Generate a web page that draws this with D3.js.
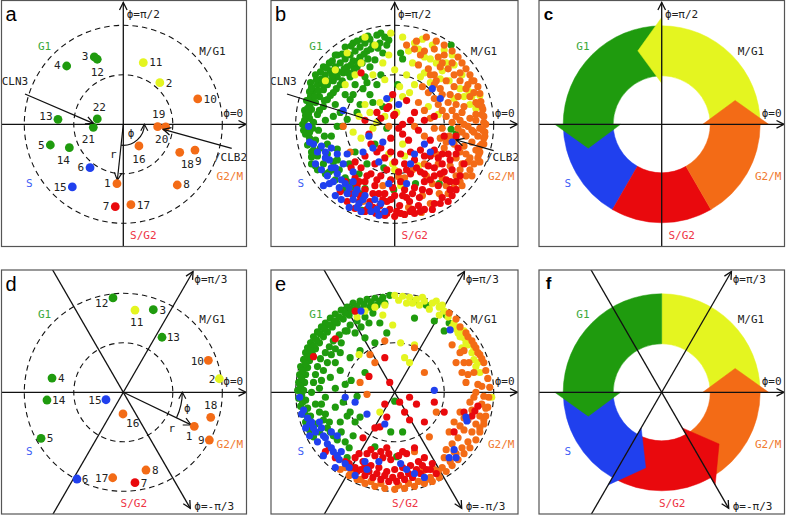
<!DOCTYPE html>
<html><head><meta charset="utf-8">
<script src="https://cdn.jsdelivr.net/npm/d3@7"></script>
<style>body{margin:0;background:#fff} text{font-family:"DejaVu Sans Mono",monospace}</style>
</head><body><svg id="chart" width="786" height="517"></svg>
<script>
// ---------- DATA ----------
const phases = ["G1","M/G1","G2/M","S","S/G2"];
const phaseFill = {"G1":"#1f9b0e","M/G1":"#e4f520","G2/M":"#f36b16","S":"#2040ee","S/G2":"#e9090d"};
const phaseText = {"G1":"#3aa83a","M/G1":"#222","G2/M":"#f07a30","S":"#3c5cf5","S/G2":"#ee3344"};
const geneIds = [1,2,3,4,5,6,7,8,9,10,11,12,13,14,15,16,17,18,19,20,21,22];
const genePhase = ["G2/M","M/G1","G1","G1","G1","S","S/G2","G2/M","G2/M","G2/M","M/G1","G1","G1","G1","S","G2/M","G2/M","G2/M","G2/M","G2/M","G1","G1"];
// panel a (amplitude, % of outer circle)
const aX = [-6.4,36.9,-29.3,-57.2,-73.7,-33.6,-8.1,54.5,72.4,75.2,20.2,-26.3,-66.0,-54.5,-51.5,15.8,7.7,57.0,34.7,42.8,-30.3,-26.3];
const aY = [-60.0,42.0,68.0,58.9,-20.9,-43.8,-83.2,-61.3,-26.0,25.6,62.2,65.7,5.0,-23.6,-63.3,-21.9,-81.2,-28.3,-2.4,-2.7,-3.0,5.4];
// panel d (genes 1..18)
const dX = [71.7,97.0,30.3,-72.0,-83.1,-46.8,11.8,22.9,86.9,85.9,11.8,-10.4,39.1,-77.1,-17.5,-0.3,-10.7,88.3];
const dY = [-34.4,13.7,83.4,14.4,-46.5,-87.6,-91.3,-78.5,-48.2,32.3,83.1,95.3,55.6,-7.8,-7.5,-21.9,-86.3,-25.3];
// panel b scatter
const bGreen = [[-10,88],[-18,90],[-25,86],[-15,82],[-22,80],[-30,82],[-35,78],[-28,74],[-40,74],[-45,70],[-35,68],[-50,66],[-42,64],[-55,62],[-48,58],[-60,58],[-38,58],[-52,52],[-65,54],[-58,48],[-70,50],[-45,48],[-62,44],[-74,46],[-68,40],[-78,40],[-55,40],[-72,35],[-82,34],[-62,32],[-76,28],[-85,27],[-68,25],[-80,22],[-86,20],[-72,18],[-84,15],[-89,12],[-78,10],[-86,6],[-91,4],[-82,2],[-89,-2],[-92,-6],[-70,4],[-60,20],[-50,30],[-40,40],[-30,48],[-25,58],[-32,36],[-45,25],[-55,12],[-62,8],[-20,65],[-12,72],[-8,80],[-18,40],[-35,20],[-48,5],[-58,-2],[-66,62],[-72,58],[-58,70],[-50,78],[-42,82],[-80,50],[-85,42],[-86,33],[-89,24],[-91,14],[-60,70],[6,72],[8,66],[57,80],[-25,30],[-22,22],[-12,18],[-8,-4],[-53,-2],[62,-10],[57,-5],[21,-60],[-1,-66],[-11,-44],[-33,-87],[-30,-65],[45,-60],[-90,-10],[-86,-14],[-80,-16],[-88,-21],[-82,-26],[-75,-24],[-84,-33],[-78,-32],[-68,-30],[-80,-42],[-72,-40],[-62,-38],[-66,-48],[-56,-46],[-60,-56],[-50,-54],[-52,-66],[-44,-62],[-35,-70],[-68,-20],[-58,-25],
 [-14,92],[-33,86],[-27,89],[-38,84],[-44,79],[-53,71],[-63,64],[-69,57],[-75,53],[-79,45],[-84,37],[-85,28],[-88,16],[-90,9],[-93,0],[-24,76],[-31,71],[-37,64],[-44,60],[-51,56],[-57,53],[-63,49],[-67,44],[-73,41],[-77,34],[-81,28],[-85,22],[-87,11],[-83,-4],[-76,14],[-71,24],[-65,29],[-59,36],[-53,44],[-47,52],[-41,55],[-33,62],[-27,66],[-17,77],[-6,85],[-64,-12],[-71,-12],[-86,-8],[-77,-6],[-84,-28],[-58,-36],[-46,-40],[-36,-50],[-40,-28],[-28,-40],[-20,-20],[3,40],[-14,50],[-28,42],[-42,30],[-38,12],[-84,-40],[-78,-46],[-70,-50],[-62,-46],[-48,-58],[-40,-64]];
const bYellow = [[-4,92],[-30,88],[-48,72],[-60,55],[-70,44],[-40,50],[-22,50],[-50,40],[-30,20],[8,88],[20,82],[28,86],[38,80],[50,75],[58,70],[30,68],[18,62],[42,62],[48,54],[26,48],[12,50],[36,42],[55,44],[66,36],[70,28],[76,20],[82,16],[60,26],[15,32],[5,38],[-5,26],[-15,22],[-25,12],[-36,8],[-18,2],[8,-20],[10,-32],[0,-46],[-4,-56],[24,-42],[-42,-8],[34,18],[44,10],[-10,45],[0,55],[75,33],
 [-20,80],[-34,62],[-12,62],[-6,70],[14,74],[24,76],[36,66],[52,62],[46,46],[30,52],[20,40],[8,28],[2,12],[-10,8],[-22,-4],[-34,-14],[-6,-30],[-2,-40],[6,-62],[60,60],[68,50],[86,29],[78,28]];
const bOrange = [[32,88],[42,84],[50,80],[58,74],[64,68],[68,62],[72,56],[76,50],[80,44],[84,38],[86,31],[87,23],[89,15],[90,8],[92,0],[91,-8],[90,-14],[88,-20],[86,-28],[84,-34],[80,-40],[76,-46],[72,-52],[66,-58],[60,-64],[54,-70],[48,62],[44,68],[54,56],[60,50],[66,44],[72,36],[76,28],[82,22],[82,10],[76,6],[70,0],[64,-4],[58,2],[52,8],[48,14],[44,20],[40,26],[34,32],[28,38],[46,36],[56,30],[62,20],[68,12],[72,-12],[78,-18],[82,-26],[72,-30],[62,-34],[56,-42],[66,-46],[50,-24],[46,-14],[40,-4],[36,6],[30,14],[24,22],[40,50],[34,56],[24,60],[20,-2],[-6,-2],[-52,-2],[-45,-28],[86,-4],[88,10],[78,-6],[70,-22],[60,-20],[55,-12],[48,-4],[62,8],[70,18],[80,32],[52,44],[60,38],[66,-28],[74,-38],[84,-12],[78,44],[20,76],[30,74],[12,80],[40,40],[30,-12],[44,-40],[38,-60],[48,-54],[28,-72],[14,-84],[4,-53],[27,-89],[36,-80],
 [86,-38],[78,-52],[68,-62],[86,-22],[89,-6],[90,2],[84,20],[74,40],[66,52],[58,62],[50,70],[85,-30],[76,-34],[68,-40],[62,-52],[52,-62],[45,-70],[80,-8],[74,-2],[66,4],[58,14],[54,22],[48,30],[42,44],[36,50],[26,70],[22,84],[40,76],[46,58],[90,-20],[91,-12],[82,4],[88,18],[64,28],[68,-8],[60,-16],[52,-18],[42,-30],[30,-40],[18,-46],[32,-52],[-20,-86],[-32,-78],[-12,-62],[10,-54]];
const bRed = [[-40,-85],[-30,-88],[-19,-90],[-10,-92],[0,-93],[10,-91],[20,-90],[30,-86],[40,-80],[48,-74],[56,-66],[62,-58],[-48,-78],[-55,-68],[-35,-72],[-25,-78],[-15,-82],[-5,-86],[5,-82],[15,-78],[25,-74],[35,-68],[44,-62],[52,-56],[58,-46],[50,-48],[40,-52],[30,-58],[20,-64],[10,-66],[0,-72],[-10,-70],[-20,-62],[-30,-58],[-40,-54],[-44,-44],[-34,-44],[-24,-50],[-14,-52],[-4,-56],[6,-58],[16,-50],[26,-48],[34,-42],[44,-34],[54,-30],[40,-26],[30,-32],[20,-36],[10,-40],[0,-38],[-10,-34],[-20,-40],[-30,-32],[14,-16],[8,-10],[-4,-14],[4,-4],[0,10],[-8,16],[-14,6],[24,-6],[20,12],[-24,-20],[-18,-28],[-26,-10],[-34,52],[-6,18],[-1,9],[12,24],[-28,-86],[-14,-91],[18,-86],[-38,-62],[-50,-58],[64,-24],[70,-40],[50,-12],[36,-16],[54,-78],[-8,-78],[2,-88],[12,-74],[24,-82],[-16,-70],[-2,-64],[-40,-38],[40,-44],[62,-12],
 [-44,-70],[-36,-78],[-22,-84],[-8,-90],[6,-90],[16,-88],[26,-88],[38,-86],[46,-80],[58,-72],[62,-66],[66,-52],[56,-58],[46,-50],[36,-56],[28,-66],[18,-70],[8,-72],[-4,-76],[-12,-76],[-22,-70],[-30,-66],[-36,-58],[-28,-52],[-18,-56],[-8,-46],[4,-48],[12,-46],[22,-44],[30,-50],[48,-40],[56,-36],[62,-30],[36,-32],[26,-26],[16,-28],[6,-30],[-4,-28],[-14,-24],[8,0],[16,4],[-2,30],[-18,12],[-30,4],[30,4],[40,8],[48,-30]];
const bBlue = [[-87,-2],[-82,-20],[-74,-22],[-70,-28],[-64,-24],[-58,-30],[-80,-40],[-74,-46],[-68,-52],[-62,-58],[-56,-64],[-48,-70],[-42,-76],[-36,-80],[-50,-60],[-42,-58],[-38,-66],[-30,-72],[-26,-82],[-18,-86],[-60,-44],[-52,-40],[-66,-36],[-72,-62],[-46,-84],[-34,-88],[-20,-76],[-10,-88],[38,36],[-8,26],[-26,-12],[-52,14],[58,-18],[-22,-24],[-12,-18],[4,20],[36,-28],[20,-30],[-42,-48],[-60,-72],
 [-78,-28],[-86,-18],[-70,-34],[-64,-44],[-58,-50],[-54,-56],[-46,-64],[-40,-70],[-32,-76],[-24,-88],[-14,-80],[-66,-60],[-54,-76],[-38,-84],[-16,-92],[-48,-30],[-32,-28],[-16,-38],[-6,-60],[12,-60],[16,-40],[30,-20],[46,26]];
// panel e scatter
const eGreen = [[-5,98],[-12,96],[-20,95],[-28,94],[-35,92],[-42,90],[-48,86],[-54,83],[-60,79],[-65,75],[-70,70],[-74,66],[-78,61],[-82,56],[-85,50],[-88,45],[-90,40],[-92,33],[-95,26],[-96,18],[-97,10],[-98,2],[-97,-6],[-95,-14],[-93,-22],[-90,-30],[-86,-38],[-82,-45],[-10,90],[-18,88],[-25,86],[-32,84],[-40,82],[-46,78],[-52,74],[-58,70],[-63,66],[-68,61],[-72,56],[-76,50],[-80,44],[-83,38],[-86,32],[-88,25],[-90,18],[-91,10],[-92,2],[-90,-8],[-88,-16],[-85,-24],[-80,-32],[-76,-40],[-22,80],[-30,76],[-38,72],[-45,68],[-50,62],[-56,58],[-62,52],[-66,46],[-70,40],[-75,34],[-78,26],[-80,18],[-82,10],[-84,0],[-80,-12],[-76,-20],[-72,-28],[-68,-36],[-40,60],[-30,55],[-55,40],[-60,30],[-45,35],[-35,42],[-20,50],[-65,15],[-55,22],[-50,8],[-70,-5],[-60,-15],[-52,-10],[-45,-20],[-65,-40],[-58,-48],[-50,-50],[-42,-44],[-55,-30],[-35,-25],[0,-9],[-4,-40],[8,-40],[20,92],[32,88],[40,72],[50,62],[52,78],[55,70],[-8,60],[20,75],[-15,70],[-20,-55],[-48,-66],[2,-65],
 [-15,92],[-24,91],[-31,89],[-38,87],[-44,84],[-50,80],[-56,76],[-61,72],[-66,68],[-71,64],[-75,59],[-79,53],[-82,47],[-85,42],[-88,36],[-90,29],[-93,22],[-94,14],[-95,6],[-94,-3],[-93,-10],[-91,-19],[-88,-24],[-84,-34],[-26,70],[-34,66],[-48,62],[-54,50],[-60,44],[-64,38],[-68,30],[-72,22],[-74,12],[-76,4],[-74,-12],[-70,-22],[-66,-30],[-62,-44],[-54,-40],[-46,-56],[-40,-30],[-48,-24],[-38,-4],[-30,20],[-44,12],[-60,4]];
const eYellow = [[0,98],[8,97],[15,96],[22,94],[30,92],[38,90],[45,86],[50,82],[12,90],[25,88],[35,84],[-10,88],[-20,86],[-30,82],[60,70],[64,60],[70,55],[74,48],[78,40],[80,33],[82,26],[86,20],[70,62],[76,52],[68,45],[98,-5],[10,35],[15,30],[-15,-20],[45,78],[-38,76],[20,48],[-36,38],
 [4,93],[18,90],[28,96],[42,92],[48,88],[54,76],[58,66],[66,56],[72,50],[80,44],[84,30],[62,64],[-2,68],[6,50],[-12,78]];
const eOrange = [[55,80],[62,74],[66,66],[72,60],[78,52],[82,45],[86,38],[90,30],[92,22],[94,14],[96,5],[95,-5],[94,-15],[92,-24],[90,-32],[86,-40],[82,-48],[76,-56],[70,-62],[64,-68],[58,-74],[52,-80],[70,42],[75,30],[80,20],[84,8],[80,-5],[78,-18],[74,-28],[70,-38],[64,-46],[58,-52],[52,-58],[62,30],[68,20],[72,10],[60,-30],[66,-20],[55,-40],[50,-66],[60,-60],[45,-86],[38,-90],[30,-92],[20,-95],[10,-97],[0,-98],[-10,-97],[-20,-95],[-30,-92],[-38,-88],[-46,-84],[-25,38],[-20,30],[-10,52],[20,45],[-35,10],[-28,-2],[30,20],[42,-20],[35,-45],[20,-60],[-55,-78],[40,-78],[28,-80],
 [88,34],[84,40],[80,48],[74,56],[90,-4],[88,-12],[86,-24],[82,-32],[78,-40],[74,-50],[68,-56],[62,-62],[56,-70],[48,-76],[44,-80],[36,-86],[86,-36],[90,-28],[66,-34],[70,-26],[76,-10],[82,0],[88,6],[92,-16],[74,18],[70,30],[66,40],[58,48],[-14,-92],[-24,-90],[-34,-88],[4,-94],[14,-92],[24,-90],[32,-88],[-44,-80],[-50,-76]];
const eRed = [[-50,-70],[-44,-76],[-38,-80],[-30,-84],[-22,-86],[-14,-88],[-6,-90],[2,-90],[10,-88],[18,-86],[26,-82],[32,-78],[-40,-66],[-32,-70],[-24,-74],[-16,-76],[-8,-80],[0,-78],[8,-76],[16,-74],[24,-70],[-28,-62],[-20,-64],[-12,-66],[-4,-68],[4,-64],[12,-62],[-8,-56],[20,-56],[30,-66],[38,-72],[-26,16],[-10,35],[-5,10],[5,-10],[15,-5],[-8,-25],[15,-28],[30,-30],[40,-10],[50,-20],[60,-40],[70,-20],[81,-19],[78,-24],[84,-14],[-70,-60],[-82,36],[-60,54],[-40,82],[10,-20],[-15,-35],
 [-46,-72],[-40,-76],[-34,-78],[-26,-80],[-18,-82],[-10,-84],[-2,-86],[6,-84],[14,-82],[22,-78],[-36,-62],[-24,-58],[-14,-60],[-6,-62],[8,-60],[-30,-74],[28,-74],[36,-78],[42,-82],[-60,-66],[-66,-56],[-20,-36],[-10,-12],[22,-12],[-32,-46]];
const eBlue = [[-96,-5],[-92,-18],[-88,-26],[-84,-30],[-90,-36],[-80,-40],[-76,-30],[-72,-44],[-86,-44],[-78,-50],[-68,-52],[-62,-60],[-56,-68],[-50,-72],[-60,-76],[-72,-64],[-64,-40],[-58,-44],[-50,-5],[-40,-10],[-28,-22],[-10,-32],[40,2],[73,-29],[72,-25],[55,-66],[12,-78],[20,-82],[-28,-78],[-34,82],[56,63],
 [-94,-22],[-86,-32],[-82,-36],[-74,-36],[-70,-46],[-64,-56],[-58,-64],[-54,-60],[-46,-76],[-40,-84],[-30,-70],[-16,-70],[6,-72],[30,-86],[60,-58],[62,-66]];
// ring phases for c and f: [phase, start angle, end angle] in degrees
const ringSegments = [["M/G1",0,90],["G1",90,180],["S",180,240],["S/G2",240,300],["G2/M",300,360]];
const cArrowAngles = [["G2/M",0],["M/G1",90],["G1",180]];
const fArrowAngles = [["G2/M",0],["G1",180],["S",240],["S/G2",300]];

// ---------- LAYOUT ----------
const svg = d3.select("#chart");
svg.append("rect").attr("width",786).attr("height",517).attr("fill","#fff");
const R = 99;
const panels = [
  {id:"a",bold:false,fx:1.5,fy:0.5,fw:245,fh:246,cx:123.3,cy:124.3,kind:"genes",top:true},
  {id:"b",bold:false,fx:271,fy:0.5,fw:247,fh:246,cx:394.7,cy:124.3,kind:"scatter",top:true},
  {id:"c",bold:true,fx:539,fy:0.5,fw:245.5,fh:246,cx:661.7,cy:124.3,kind:"ring",top:true},
  {id:"d",bold:false,fx:1.5,fy:270,fw:245,fh:244,cx:123.3,cy:392.3,kind:"genes",top:false},
  {id:"e",bold:false,fx:271,fy:270,fw:247,fh:244,cx:394.7,cy:392.3,kind:"scatter",top:false},
  {id:"f",bold:true,fx:539,fy:270,fw:245.5,fh:244,cx:661.7,cy:392.3,kind:"ring",top:false}
];
const aLabelOff = [[-9.7,0],[9.3,0.6],[-9.3,0],[-9.4,0],[-9,0.7],[-9.3,0],[-9.3,0],[9.4,0],[3.3,11.7],[12.5,0.3],[12.5,0],[0,13.4],[-12,-2.6],[-6,13],[-12.3,0.7],[0,13.3],[12.5,0.6],[7.6,12.4],[1,-11.7],[-4,13],[-5,12],[2,-11.3]];
const dLabelOff = [[-5.3,10],[-7.3,0.6],[9.4,1],[9.3,0.7],[9,0],[8,0],[9,0.6],[9.3,0.7],[-8,0.7],[-11,0.7],[1.7,12],[-11.3,6],[11.3,0.7],[11.7,0.7],[-11,0.6],[9.7,10],[-11,0.6],[0,-11.6]];
const INK = "#111";

function vhead(g, tx, ty, ang, len=7.5, w=3.8, sw=1.3) {
  const bx = tx - len*Math.cos(ang), by = ty - len*Math.sin(ang);
  const px = -Math.sin(ang)*w, py = Math.cos(ang)*w;
  g.append("path").attr("d",`M${bx+px},${by+py}L${tx},${ty}L${bx-px},${by-py}`)
    .attr("fill","none").attr("stroke",INK).attr("stroke-width",sw).attr("stroke-linejoin","miter");
}
function arrow(g,x1,y1,x2,y2,sw=1.3){
  g.append("line").attr("x1",x1).attr("y1",y1).attr("x2",x2).attr("y2",y2).attr("stroke",INK).attr("stroke-width",sw);
  vhead(g,x2,y2,Math.atan2(y2-y1,x2-x1),7.5,3.8,sw);
}
function txt(g,x,y,s,opt={}){
  return g.append("text").attr("x",x).attr("y",y).text(s)
    .attr("font-size",opt.size||11).attr("fill",opt.fill||"#222")
    .attr("text-anchor",opt.anchor||"middle").attr("dominant-baseline","central")
    .style("font-family",opt.family||null).style("font-weight",opt.weight||null);
}

panels.forEach(p=>{
  const g = svg.append("g");
  const clipId = "clip-"+p.id;
  svg.append("clipPath").attr("id",clipId).append("rect").attr("x",p.fx).attr("y",p.fy).attr("width",p.fw).attr("height",p.fh);
  const inner = g.append("g").attr("clip-path",`url(#${clipId})`);
  const x = d3.scaleLinear().domain([-100,100]).range([p.cx-R,p.cx+R]);
  const y = d3.scaleLinear().domain([-100,100]).range([p.cy+R,p.cy-R]);
  const k = R/100;
  const polar = (r,deg)=>[x(r*Math.cos(deg*Math.PI/180)), y(r*Math.sin(deg*Math.PI/180))];

  if (p.kind==="ring"){
    const arcGen = d3.arc().innerRadius(49*k).outerRadius(99.5*k);
    const rg = inner.append("g").attr("transform",`translate(${p.cx},${p.cy})`);
    ringSegments.forEach(([ph,a0,a1])=>{
      rg.append("path").attr("d",arcGen({startAngle:(90-a1)*Math.PI/180,endAngle:(90-a0)*Math.PI/180}))
        .attr("fill",phaseFill[ph]).attr("stroke",phaseFill[ph]).attr("stroke-width",0.5);
    });
    const heads = p.top ? cArrowAngles : fArrowAngles;
    heads.forEach(([ph,ab])=>{
      const pts=[polar(41.5,ab),polar(108,ab),polar(78,ab+18)];
      inner.append("path").attr("d","M"+pts.map(q=>q.join(",")).join("L")+"Z").attr("fill",phaseFill[ph]).attr("stroke",phaseFill[ph]).attr("stroke-width",0.5);
    });
  } else {
    [100,50].forEach(r=>{
      inner.append("circle").attr("cx",x(0)).attr("cy",y(0)).attr("r",x(r)-x(0))
        .attr("fill","none").attr("stroke",INK).attr("stroke-width",1.1).attr("stroke-dasharray","5.5,4");
    });
  }

  const right = p.fx+p.fw-0.5;
  inner.append("line").attr("x1",p.fx).attr("x2",right).attr("y1",p.cy).attr("y2",p.cy).attr("stroke",INK).attr("stroke-width",1.3);
  vhead(inner,right,p.cy,0);
  if (p.top){
    inner.append("line").attr("x1",p.cx).attr("x2",p.cx).attr("y1",p.fy+p.fh).attr("y2",p.fy+2).attr("stroke",INK).attr("stroke-width",1.3);
    vhead(inner,p.cx,p.fy+2,-Math.PI/2);
  } else {
    const c60=Math.cos(Math.PI/3), s60=Math.sin(Math.PI/3);
    const L1=139.5, L2=134;
    const t1=[p.cx+L1*c60, p.cy-L1*s60];
    inner.append("line").attr("x1",p.cx-200*c60).attr("y1",p.cy+200*s60).attr("x2",t1[0]).attr("y2",t1[1]).attr("stroke",INK).attr("stroke-width",1.3);
    vhead(inner,t1[0],t1[1],-Math.PI/3);
    const t2=[p.cx+L2*c60, p.cy+L2*s60];
    inner.append("line").attr("x1",p.cx-200*c60).attr("y1",p.cy-200*s60).attr("x2",t2[0]).attr("y2",t2[1]).attr("stroke",INK).attr("stroke-width",1.3);
    vhead(inner,t2[0],t2[1],Math.PI/3);
  }

  if (p.kind==="genes"){
    const X = p.top? aX : dX, Y = p.top? aY : dY, off = p.top? aLabelOff : dLabelOff;
    const n = X.length;
    const gx=x(X[0]), gy=y(Y[0]);
    const ang=Math.atan2(gy-p.cy,gx-p.cx), len=Math.hypot(gx-p.cx,gy-p.cy)-3.5;
    arrow(inner,p.cx,p.cy,p.cx+len*Math.cos(ang),p.cy+len*Math.sin(ang),1.2);
    const ar = p.top? 21 : 59;
    const pa = d3.path();
    pa.moveTo(p.cx+ar*Math.cos(ang),p.cy+ar*Math.sin(ang));
    pa.arc(p.cx,p.cy,ar,ang,0,true);
    inner.append("path").attr("d",pa.toString()).attr("fill","none").attr("stroke",INK).attr("stroke-width",1.2);
    vhead(inner,p.cx+ar,p.cy,-Math.PI/2,6.5,3.5,1.2);
    if (p.top){ txt(inner,113.3,154,"r"); txt(inner,131,133.5,"ϕ"); }
    else { txt(inner,171.7,428,"r"); txt(inner,187.3,408,"ϕ"); }
    for (let i=0;i<n;i++){
      inner.append("circle").attr("cx",x(X[i])).attr("cy",y(Y[i])).attr("r",4.4).attr("fill",phaseFill[genePhase[i]]);
    }
    for (let i=0;i<n;i++){
      txt(inner,x(X[i])+off[i][0],y(Y[i])+off[i][1],String(geneIds[i]));
    }
  } else if (p.kind==="scatter"){
    const sets = p.top ? [["G1",bGreen],["M/G1",bYellow],["G2/M",bOrange],["S/G2",bRed],["S",bBlue]]
                       : [["G1",eGreen],["M/G1",eYellow],["G2/M",eOrange],["S/G2",eRed],["S",eBlue]];
    sets.forEach(([ph,arr])=>{
      inner.selectAll(null).data(arr).enter().append("circle")
        .attr("cx",d=>x(d[0])).attr("cy",d=>y(d[1])).attr("r",3.6).attr("fill",phaseFill[ph]);
    });
  }

  if (p.id==="a"){
    arrow(inner,25,94,93.3,123.3); txt(inner,15,81,"CLN3");
    arrow(inner,231.7,148.3,163.3,129.3); txt(inner,230.5,157,"/CLB2");
  }
  if (p.id==="b"){
    arrow(inner,287,94,382,124); txt(inner,283.3,81,"CLN3");
    arrow(inner,493.7,150.7,456.3,140); txt(inner,502.5,157.3,"/CLB2");
  }

  const sg2dx = p.top? 20 : 10.5;
  txt(inner,p.cx-78.8,p.cy-78,"G1",{fill:phaseText["G1"]});
  txt(inner,p.cx+89.2,p.cy-73,"M/G1",{fill:phaseText["M/G1"]});
  txt(inner,p.cx+106.5,p.cy+52,"G2/M",{fill:phaseText["G2/M"]});
  txt(inner,p.cx-94,p.cy+59,"S",{fill:phaseText["S"]});
  txt(inner,p.cx+sg2dx,p.cy+111,"S/G2",{fill:phaseText["S/G2"]});
  txt(inner,p.cx+110,p.cy-11,"ϕ=0");
  if (p.top){ txt(inner,p.cx+3.4,p.cy-110,"ϕ=π/2",{anchor:"start"}); }
  else { txt(inner,p.cx+71,p.cy-112.6,"ϕ=π/3",{anchor:"start"}); txt(inner,p.cx+71,p.cy+114,"ϕ=-π/3",{anchor:"start"}); }

  txt(g,p.fx+9.5,p.fy+13.5,p.id,{size:p.bold?17:20,fill:"#000",family:"Liberation Sans, Arial, sans-serif",weight:p.bold?"bold":"normal"});

  g.append("rect").attr("x",p.fx).attr("y",p.fy).attr("width",p.fw).attr("height",p.fh)
    .attr("fill","none").attr("stroke","#555").attr("stroke-width",1.2);
});
</script></body></html>
